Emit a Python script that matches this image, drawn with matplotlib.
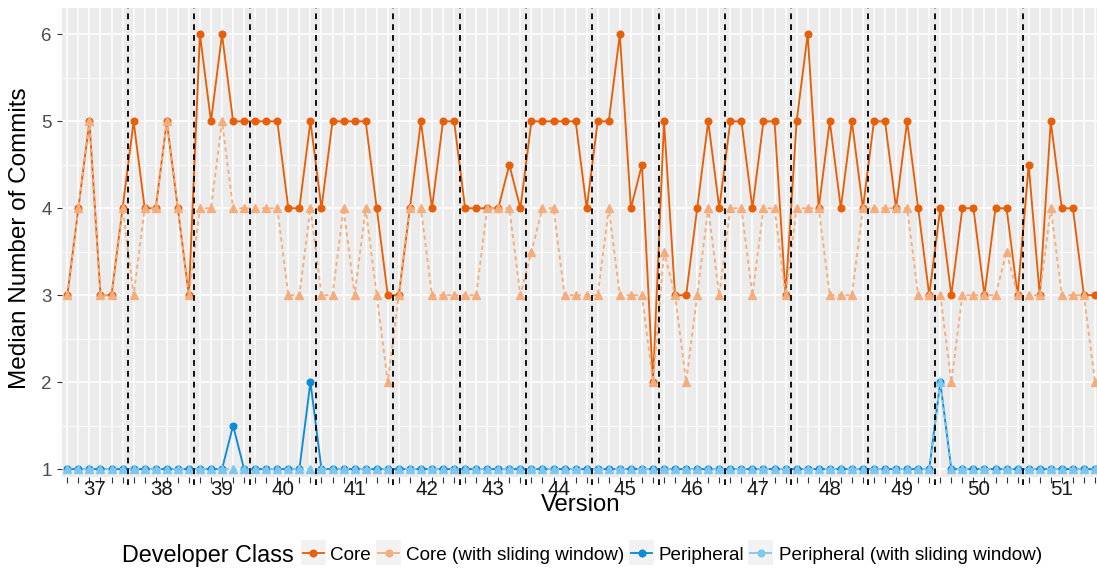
import numpy as np
import matplotlib
matplotlib.use("Agg")
import matplotlib.pyplot as plt
from matplotlib.lines import Line2D
from matplotlib.patches import Rectangle
from matplotlib.ticker import FixedLocator

plt.rcParams['font.family'] = ['Liberation Sans', 'DejaVu Sans']

# =============================================================================
# DATA
# =============================================================================

versions = ['37', '38', '39', '40', '41', '42', '43', '44', '45', '46', '47', '48', '49', '50', '51']
version_sizes = [6, 6, 5, 6, 7, 6, 6, 6, 6, 6, 6, 7, 6, 8, 7]

core = [3, 4, 5, 3, 3, 4, 5, 4, 4, 5, 4, 3, 6, 5, 6, 5, 5, 5, 5, 5,
        4, 4, 5, 4, 5, 5, 5, 5, 4, 3, 3, 4, 5, 4, 5, 5, 4, 4, 4, 4,
        4.5, 4, 5, 5, 5, 5, 5, 4, 5, 5, 6, 4, 4.5, 2, 5, 3, 3, 4, 5, 4,
        5, 5, 4, 5, 5, 3, 5, 6, 4, 5, 4, 5, 4, 5, 5, 4, 5, 4, 3, 4,
        3, 4, 4, 3, 4, 4, 3, 4.5, 3, 5, 4, 4, 3, 3]

core_sw = [3, 4, 5, 3, 3, 4, 3, 4, 4, 5, 4, 3, 4, 4, 5, 4, 4, 4, 4, 4,
           3, 3, 4, 3, 3, 4, 3, 4, 3, 2, 3, 4, 4, 3, 3, 3, 3, 3, 4, 4,
           4, 3, 3.5, 4, 4, 3, 3, 3, 3, 4, 3, 3, 3, 2, 3.5, 3, 2, 3, 4, 3,
           4, 4, 3, 4, 4, 3, 4, 4, 4, 3, 3, 3, 4, 4, 4, 4, 4, 3, 3, 3,
           2, 3, 3, 3, 3, 3.5, 3, 3, 3, 4, 3, 3, 3, 2]

periph = [1] * 94
periph[15] = 1.5
periph[22] = 2
periph[79] = 2

periph_sw = [1] * 94
periph_sw[79] = 2

series_names = ['Core', 'Core (with sliding window)', 'Peripheral', 'Peripheral (with sliding window)']
colors = ['#e6600a', '#f4ae7e', '#0c8cd5', '#7fc7ee']

# =============================================================================
# FIGURE
# =============================================================================

W, H = 1097, 568
fig = plt.figure(figsize=(W / 100, H / 100), dpi=100)
ax = fig.add_axes([61.8 / W, 90.7 / H, 1038.7 / W, 469 / H])
ax.set_facecolor('#ebebeb')
for s in ax.spines.values():
    s.set_visible(False)

x = np.arange(len(core))
lw = 1.35
ax.plot(x, core, color=colors[0], lw=lw, marker='o', ms=4.8, zorder=3)
ax.plot(x, core_sw, color=colors[1], lw=lw, ls=(0, (2.2, 1.8)), marker='^', ms=5.6, zorder=3)
ax.plot(x, periph, color=colors[2], lw=lw, marker='o', ms=4.8, zorder=3)
ax.plot(x, periph_sw, color=colors[3], lw=lw, ls=(0, (2.2, 1.8)), marker='^', ms=5.6, zorder=3)

bounds = np.cumsum(version_sizes)[:-1] - 0.5
for b in bounds:
    ax.axvline(b, ymin=-0.017, ymax=1, color='black', lw=1.3, ls=(0, (3.2, 2.8)),
               clip_on=False, zorder=4)

ax.set_xlim(-0.5, 93.5)
ax.set_ylim(0.905, 6.30)

# ticks and grid
starts = np.cumsum([0] + version_sizes[:-1])
centers = [s + (n - 1) / 2 for s, n in zip(starts, version_sizes)]
ax.set_xticks(x)
ax.xaxis.set_minor_locator(FixedLocator(centers))
ax.xaxis.remove_overlapping_locs = False
ax.set_xticklabels(versions, minor=True)
ax.tick_params(axis='x', which='major', length=4.5, width=0.8, color='#333333', labelbottom=False)
ax.tick_params(axis='x', which='minor', length=0, pad=2.2, labelsize=14.8, labelcolor='#1a1a1a')

ax.set_yticks([1, 2, 3, 4, 5, 6])
ax.set_yticks([1.5, 2.5, 3.5, 4.5, 5.5], minor=True)
ax.tick_params(axis='y', which='major', length=3.6, width=0.8, color='#333333', pad=3.6,
               labelsize=13.5, labelcolor='#4d4d4d')
ax.tick_params(axis='y', which='minor', length=0)

ax.set_axisbelow(True)
ax.xaxis.grid(True, which='major', color='white', lw=1.1)
ax.yaxis.grid(True, which='major', color='white', lw=1.1)
ax.yaxis.grid(True, which='minor', color='white', lw=0.55)

def fx(px):
    return px / W

def fy(py):
    return 1 - py / H

fig.text(fx(581), fy(505), 'Version', ha='center', va='center', fontsize=17.2)
fig.text(fx(20), fy(238), 'Median Number of Commits', rotation=90,
         ha='center', va='center', fontsize=17.5)

# legend
fig.text(fx(121.7), fy(561.7), 'Developer Class', ha='left', va='baseline', fontsize=16.8)
key_x = [300.7, 376, 629.3, 748.3]
text_x = [330, 405.7, 659, 778.7]
for kx, tx, name, c in zip(key_x, text_x, series_names, colors):
    fig.patches.append(Rectangle((fx(kx), fy(565)), 25 / W, 25 / H, transform=fig.transFigure,
                                 facecolor='#f2f2f2', edgecolor='none'))
    fig.lines.append(Line2D([fx(kx + 2), fx(kx + 23)], [fy(552.5), fy(552.5)],
                            transform=fig.transFigure, color=c, lw=lw))
    fig.lines.append(Line2D([fx(kx + 12.5)], [fy(552.5)], transform=fig.transFigure,
                            color=c, marker='o', ms=4.8, ls='none'))
    fig.text(fx(tx), fy(560), name, ha='left', va='baseline', fontsize=13.6)

fig.savefig('out.png', dpi=100)
